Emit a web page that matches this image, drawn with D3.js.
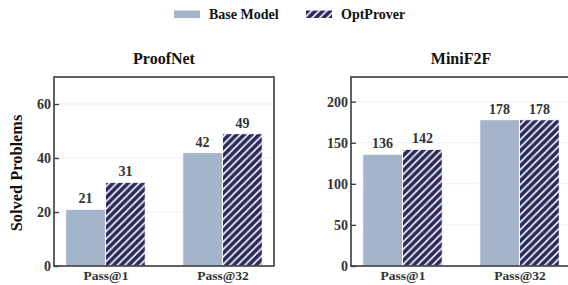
<!DOCTYPE html>
<html><head><meta charset="utf-8">
<script src="https://cdn.jsdelivr.net/npm/d3@7"></script>
<style>body{margin:0;background:#fff}svg{display:block}text{font-family:"Liberation Serif","Times New Roman",serif;font-weight:bold}</style>
</head><body>
<svg id="c" width="568" height="285"></svg>
<script>
const categories = ["Pass@1", "Pass@32"];
const seriesNames = ["Base Model", "OptProver"];
const proofNetBase = [21, 42];
const proofNetOpt = [31, 49];
const miniF2FBase = [136, 178];
const miniF2FOpt = [142, 178];
const proofNetTicks = [0, 20, 40, 60];
const miniF2FTicks = [0, 50, 100, 150, 200];
const panels = [
  {title: "ProofNet", base: proofNetBase, opt: proofNetOpt, ticks: proofNetTicks, max: 70, left: 54},
  {title: "MiniF2F", base: miniF2FBase, opt: miniF2FOpt, ticks: miniF2FTicks, max: 230, left: 351}
];
const baseColor = "#a3b4cb", optColor = "#2d2a5c", axisColor = "#3a3a3a";
const svg = d3.select("#c");
const defs = svg.append("defs");
const pat = defs.append("pattern").attr("id","hatch").attr("patternUnits","userSpaceOnUse")
  .attr("width",7.5).attr("height",7.5);
pat.append("rect").attr("width",7.5).attr("height",7.5).attr("fill",optColor);
pat.append("path").attr("d","M-2,2 L2,-2 M0,7.5 L7.5,0 M5.5,9.5 L9.5,5.5")
  .attr("stroke","#fff").attr("stroke-width",1.5);

const W = 220, plotTop = 77, plotBottom = 266;
panels.forEach(p => {
  const g = svg.append("g");
  const x = d3.scaleLinear().domain([-0.44, 1.44]).range([p.left, p.left + W]);
  const y = d3.scaleLinear().domain([0, p.max]).range([plotBottom, plotTop]);
  const bw = 0.34;
  g.selectAll(".grid").data(p.ticks.filter(t => t > 0)).join("line")
    .attr("x1", p.left).attr("x2", p.left + W).attr("y1", d => y(d)).attr("y2", d => y(d))
    .attr("stroke", "#efefef").attr("stroke-width", 1);
  categories.forEach((c, i) => {
    [[p.base[i], "base", -1], [p.opt[i], "opt", 0]].forEach(([v, k, off]) => {
      const x0 = x(i + off * bw);
      g.append("rect").attr("x", x0).attr("y", y(v)).attr("width", x(i + (off + 1) * bw) - x0)
        .attr("height", y(0) - y(v))
        .attr("fill", k === "base" ? baseColor : "url(#hatch)")
        .attr("stroke", "#fff").attr("stroke-width", 1);
      g.append("text").attr("x", x(i + (off + 0.5) * bw)).attr("y", y(v) - 6)
        .attr("text-anchor", "middle").attr("font-size", 14).attr("fill", "#333").text(v);
    });
  });
  g.append("rect").attr("x", p.left).attr("y", plotTop).attr("width", W).attr("height", plotBottom - plotTop)
    .attr("fill", "none").attr("stroke", axisColor).attr("stroke-width", 1.6);
  const ya = g.append("g").attr("transform", `translate(${p.left},0)`)
    .call(d3.axisLeft(y).tickValues(p.ticks).tickSize(-5).tickPadding(3));
  ya.select(".domain").remove();
  ya.selectAll("line").attr("stroke", axisColor).attr("stroke-width", 1.3);
  ya.selectAll("text").attr("font-size", 14).attr("fill", "#333")
    .style("font-family", '"Liberation Serif",serif').style("font-weight", "bold");
  const xa = g.append("g").attr("transform", `translate(0,${plotBottom})`)
    .call(d3.axisBottom(x).tickValues([0, 1]).tickFormat(i => categories[i]).tickSize(0).tickPadding(4.5));
  xa.select(".domain").remove();
  xa.selectAll("text").attr("font-size", 13.5).attr("fill", "#333")
    .style("font-family", '"Liberation Serif",serif').style("font-weight", "bold");
  g.append("text").attr("x", p.left + W / 2).attr("y", 64).attr("text-anchor", "middle")
    .attr("font-size", 16).attr("fill", "#111").text(p.title);
});
svg.append("text").attr("transform", "translate(22,173) rotate(-90)").attr("text-anchor", "middle")
  .attr("font-size", 16.4).attr("fill", "#111").text("Solved Problems");
const leg = [{n: seriesNames[0], x: 174, fill: baseColor}, {n: seriesNames[1], x: 306, fill: "url(#hatch)"}];
leg.forEach(l => {
  svg.append("rect").attr("x", l.x).attr("y", 10.5).attr("width", 26).attr("height", 7.5).attr("fill", l.fill);
  svg.append("text").attr("x", l.x + 35).attr("y", 19).attr("font-size", 14).attr("fill", "#111").text(l.n);
});
</script>
</body></html>
